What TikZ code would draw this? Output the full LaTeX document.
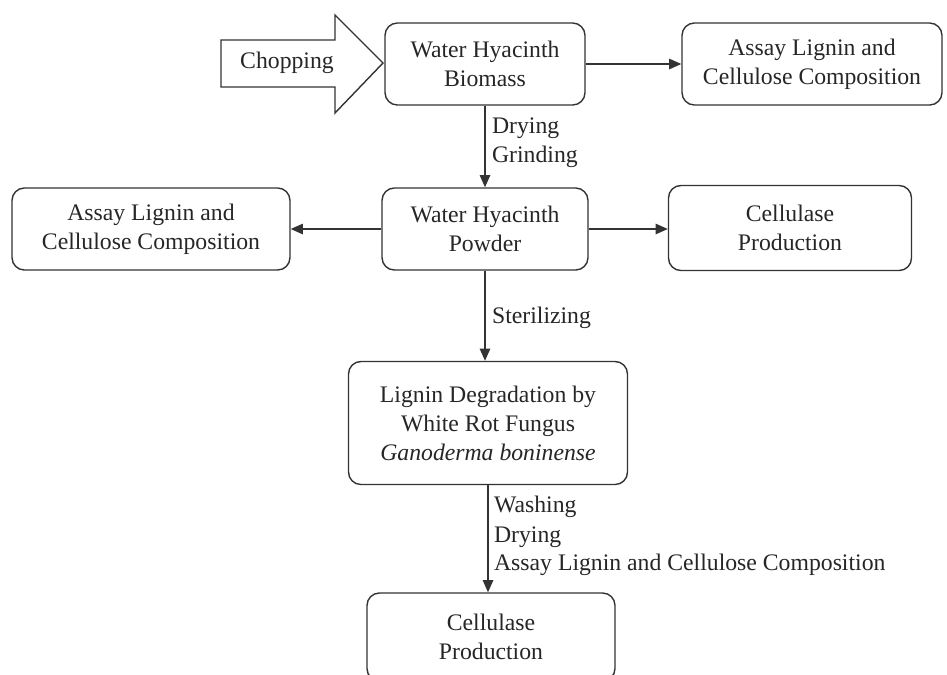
\documentclass[tikz,border=0pt]{standalone}
\usepackage{fontspec}
\setmainfont{Liberation Serif}
\usetikzlibrary{arrows.meta}

\begin{document}
\begin{tikzpicture}[x=0.02cm, y=-0.02cm,
  every node/.style={font=\fontsize{13.5}{16.5}\selectfont, text=black!85},
  box/.style={draw=black!80, line width=0.8pt, rounded corners=7pt, align=center, inner sep=2pt},
  flow/.style={draw=black!80, line width=0.8pt, -{Triangle[length=7pt,width=6pt]}},
  note/.style={anchor=west, inner sep=1pt}]

% Frame of the picture
\useasboundingbox (0,0) rectangle (947,674);
\clip (0,0) rectangle (947,674);

% Chopping arrow
\draw[black!80, line width=0.8pt] (221,40) -- (335,40) -- (335,15) -- (383,63)
  -- (335,113) -- (335,87) -- (221,87) -- cycle;
\node (chop) at (287,63) {Chopping};

% Boxes
\node[box, minimum width=4cm, minimum height=1.64cm] (biomass) at (485,64) {Water Hyacinth\\Biomass};
\node[box, minimum width=5.2cm, minimum height=1.64cm] (assayA) at (812,64) {Assay Lignin and\\Cellulose Composition};
\node[box, minimum width=4.12cm, minimum height=1.64cm] (powder) at (485,229) {Water Hyacinth\\Powder};
\node[box, minimum width=5.56cm, minimum height=1.64cm] (assayB) at (151,229) {Assay Lignin and\\Cellulose Composition};
\node[box, minimum width=4.86cm, minimum height=1.7cm] (cellA) at (790,228) {Cellulase\\Production};
\node[box, minimum width=5.58cm, minimum height=2.46cm] (lignin) at (488,423) {Lignin Degradation by\\White Rot Fungus\\\textit{Ganoderma boninense}};
\node[box, minimum width=4.96cm, minimum height=1.76cm] (cellB) at (491,637) {Cellulase\\Production};

% Connectors
\draw[flow] (biomass) -- (assayA);
\draw[flow] (biomass) -- (powder);
\draw[flow] (powder) -- (assayB);
\draw[flow] (powder.east) -- (powder.east -| cellA.west);
\draw[flow] (powder.south) -- (powder.south |- lignin.north);
\draw[flow] (lignin.south) -- (lignin.south |- cellB.north);

% Step labels
\node[note] (dryA) at (490,128) {Drying};
\node[note] (grind) at (490,157) {Grinding};
\node[note] (steril) at (490,318) {Sterilizing};
\node[note] (wash) at (492,507) {Washing};
\node[note] (dryB) at (492,537) {Drying};
\node[note] (assayC) at (492,565) {Assay Lignin and Cellulose Composition};

\end{tikzpicture}
\end{document}
